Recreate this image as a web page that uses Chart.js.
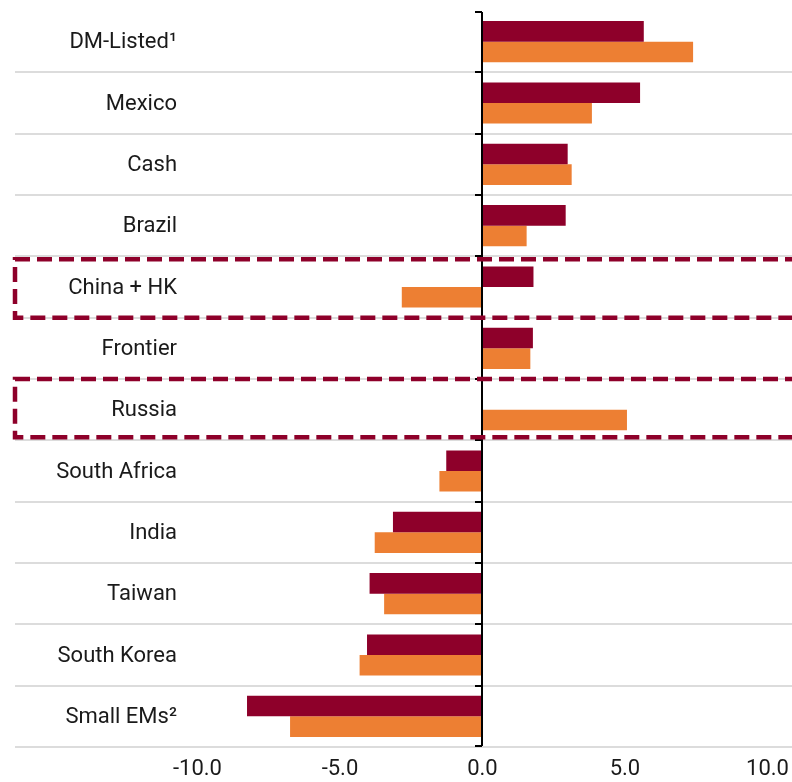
<!DOCTYPE html>
<html>
<head>
<meta charset="utf-8">
<style>
  html, body { margin: 0; padding: 0; background: #fff; }
</style>
</head>
<body>
<canvas id="chart" width="792" height="782"></canvas>
<script src="https://cdn.jsdelivr.net/npm/chart.js"></script>
<script>
  // values
  const categories = ['DM-Listed¹', 'Mexico', 'Cash', 'Brazil', 'China + HK', 'Frontier', 'Russia',
                      'South Africa', 'India', 'Taiwan', 'South Korea', 'Small EMs²'];
  const seriesA = [5.66, 5.53, 2.99, 2.92, 1.79, 1.77, null, -1.27, -3.14, -3.96, -4.05, -8.26];
  const seriesB = [7.39, 3.84, 3.13, 1.55, -2.83, 1.68, 5.07, -1.51, -3.78, -3.45, -4.31, -6.75];
  const xTicks = [-10, -5, 0, 5, 10];
  const highlighted = ['China + HK', 'Russia'];

  const MAROON = '#8e002a';
  const ORANGE = '#ed7f33';
  const TEXT = '#1a1a1a';

  // category labels, zero axis with ticks, dashed highlight boxes
  const overlay = {
    id: 'overlay',
    afterDatasetsDraw(chart) {
      const { ctx, chartArea: a, scales: { x, y } } = chart;
      const half = (y.getPixelForValue(1) - y.getPixelForValue(0)) / 2;
      ctx.save();

      ctx.font = '22px Roboto';
      ctx.fillStyle = TEXT;
      ctx.textAlign = 'right';
      ctx.textBaseline = 'middle';
      categories.forEach((c, i) => ctx.fillText(c, 177, y.getPixelForValue(i) + 1));

      const x0 = Math.round(x.getPixelForValue(0));
      ctx.strokeStyle = '#000';
      ctx.lineWidth = 2;
      ctx.beginPath();
      ctx.moveTo(x0, a.top + 1);
      ctx.lineTo(x0, a.bottom - 1);
      for (let i = 0; i <= categories.length; i++) {
        const yy = Math.round(y.getPixelForValue(i) - half) + (i === 0 ? 1 : 0) - (i === categories.length ? 1 : 0);
        ctx.moveTo(x0 - 7, yy);
        ctx.lineTo(x0, yy);
      }
      ctx.stroke();

      ctx.strokeStyle = MAROON;
      ctx.lineWidth = 4.5;
      ctx.setLineDash([15, 7]);
      highlighted.forEach(name => {
        const c = y.getPixelForValue(categories.indexOf(name));
        const shift = name === 'Russia' ? -3 : 0;
        ctx.strokeRect(15, c - half + 3 + shift, 800, 2 * half - 3);
      });
      ctx.restore();
    }
  };

  new Chart(document.getElementById('chart').getContext('2d'), {
    type: 'bar',
    data: {
      labels: categories,
      datasets: [
        { label: 'A', data: seriesA, backgroundColor: MAROON, borderWidth: 0 },
        { label: 'B', data: seriesB, backgroundColor: ORANGE, borderWidth: 0 }
      ]
    },
    options: {
      indexAxis: 'y',
      responsive: false,
      animation: false,
      devicePixelRatio: 1,
      categoryPercentage: 0.67,
      barPercentage: 1.0,
      layout: { padding: { left: 15, top: 11, right: 0, bottom: 0 } },
      plugins: { legend: { display: false }, tooltip: { enabled: false } },
      scales: {
        x: {
          min: -16.4,
          max: 10.86,
          grid: { display: false, drawTicks: false },
          border: { display: false },
          afterBuildTicks: s => { s.ticks = xTicks.map(v => ({ value: v })); },
          afterFit: s => { s.height = 35; s.paddingLeft = 0; s.paddingRight = 0; },
          ticks: {
            font: { family: 'Roboto', size: 22 },
            color: TEXT,
            padding: 9,
            autoSkip: false,
            maxRotation: 0,
            callback: v => Number(v).toFixed(1)
          }
        },
        y: {
          offset: true,
          grid: {
            offset: true,
            drawTicks: false,
            lineWidth: 2,
            color: c => c.index === 0 ? 'rgba(0,0,0,0)' : '#dcdcdc'
          },
          border: { display: false },
          ticks: { display: false },
          afterFit: s => { s.width = 0; }
        }
      }
    },
    plugins: [overlay]
  });
</script>
</body>
</html>
